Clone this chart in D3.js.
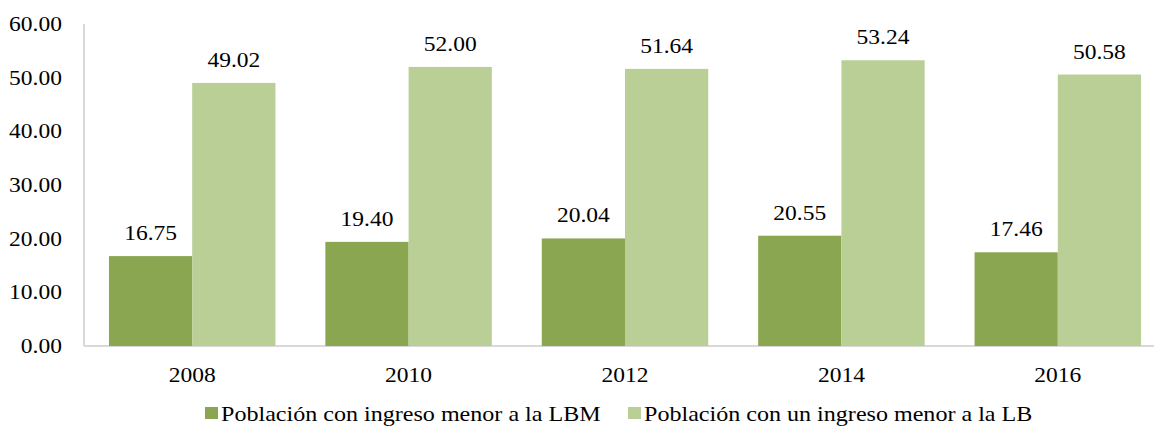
<!DOCTYPE html>
<html><head><meta charset="utf-8">
<script src="https://cdn.jsdelivr.net/npm/d3@7"></script>
<style>body{margin:0;background:#fff}svg{display:block}text{font-family:"Liberation Serif","Times New Roman",serif;fill:#000}</style>
</head><body>
<script>
const categories = ["2008","2010","2012","2014","2016"];
const seriesNames = ["Población con ingreso menor a la LBM","Población con un ingreso menor a la LB"];
const lbm = [16.75,19.40,20.04,20.55,17.46];
const lb = [49.02,52.00,51.64,53.24,50.58];
const yTicks = [0,10,20,30,40,50,60];
const colors = ["#8ba650","#b9cf96"];

const W=1154,H=427, FS=21, SX=1.12;
const svg=d3.select("body").append("svg").attr("width",W).attr("height",H);
const x=d3.scaleBand().domain(categories).range([84,1166]);
const xs=d3.scaleBand().domain([0,1]).range([0,x.bandwidth()]).paddingOuter(0.3).paddingInner(0);
const y=d3.scaleLinear().domain([0,60]).range([346,24]);

function txt(g,xp,yp,s,anchor,fs){
  g.append("text").attr("transform",`translate(${xp},${yp}) scale(${SX},1)`)
   .attr("text-anchor",anchor).attr("font-size",fs||FS).text(s);
}
// axis lines
svg.append("line").attr("x1",84).attr("x2",84).attr("y1",y(60)).attr("y2",y(0)).attr("stroke","#d9d9d9").attr("stroke-width",2);
svg.append("line").attr("x1",84).attr("x2",W).attr("y1",y(0)).attr("y2",y(0)).attr("stroke","#d9d9d9").attr("stroke-width",2);
// y ticks
const yg=svg.append("g");
yTicks.forEach(t=>txt(yg,62,y(t)+7,t.toFixed(2),"end"));
// bars
const data=[lbm,lb];
data.forEach((vals,si)=>{
  const g=svg.append("g");
  categories.forEach((c,i)=>{
    const bx=x(c)+xs(si);
    g.append("rect").attr("x",bx).attr("width",xs.bandwidth()).attr("y",y(vals[i])).attr("height",y(0)-y(vals[i])).attr("fill",colors[si]);
    txt(g,bx+xs.bandwidth()/2,y(vals[i])-16,vals[i].toFixed(2),"middle");
  });
});
// x labels
const xg=svg.append("g");
categories.forEach(c=>txt(xg,x(c)+x.bandwidth()/2,382,c,"middle"));
// legend
const lg=svg.append("g");
const legX=[205,628];
seriesNames.forEach((n,i)=>{
  lg.append("rect").attr("x",legX[i]).attr("y",407).attr("width",13).attr("height",12).attr("fill",colors[i]);
  txt(lg,legX[i]+16,421,n,"start",21.5);
});
</script>
</body></html>
